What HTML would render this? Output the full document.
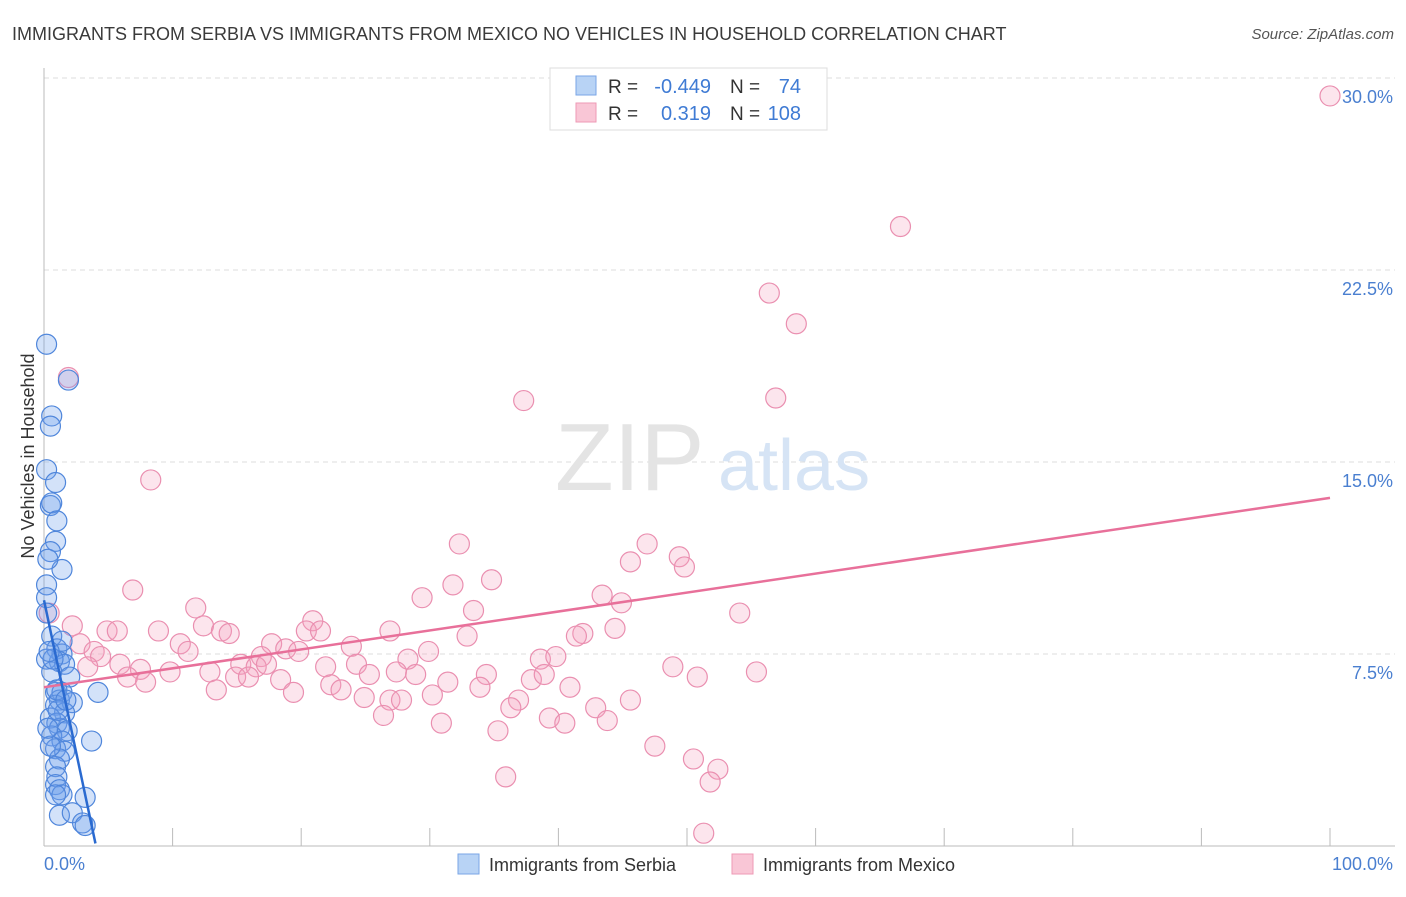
<!DOCTYPE html>
<html><head><meta charset="utf-8"><style>
body{margin:0;background:#fff;font-family:"Liberation Sans",sans-serif}
svg text{font-family:"Liberation Sans",sans-serif}
</style></head><body>
<svg id="chart" width="1406" height="892" xmlns="http://www.w3.org/2000/svg">
<text x="12" y="40" font-size="18" fill="#3a3a3a">IMMIGRANTS FROM SERBIA VS IMMIGRANTS FROM MEXICO NO VEHICLES IN HOUSEHOLD CORRELATION CHART</text>
<text x="1394" y="39" font-size="15" fill="#555" text-anchor="end" font-style="italic">Source: ZipAtlas.com</text>
<g id="grid"></g>
<text x="555" y="490" font-size="96" fill="#e4e4e4" font-family="Liberation Serif">ZIP</text>
<text x="718" y="490" font-size="72" fill="#d6e4f5">atlas</text>
<g id="marks"></g>
<text transform="translate(34,456) rotate(-90)" font-size="18" fill="#333" text-anchor="middle">No Vehicles in Household</text>
<text x="44" y="870" font-size="18" fill="#4a7fd0">0.0%</text>
<text x="1393" y="870" font-size="18" fill="#4a7fd0" text-anchor="end">100.0%</text>
<g>
<rect x="550" y="68" width="277" height="62" fill="#fff" stroke="#ddd"/>
<rect x="576" y="76" width="20" height="19" fill="#b8d3f5" stroke="#7aa6e6"/>
<rect x="576" y="103" width="20" height="19" fill="#f9c6d6" stroke="#ee9ab5"/>
<text x="608" y="93" font-size="19" fill="#333">R = </text><text x="711" y="93" font-size="20" fill="#3f7bd4" text-anchor="end">-0.449</text>
<text x="730" y="93" font-size="19" fill="#333">N = </text><text x="801" y="93" font-size="20" fill="#3f7bd4" text-anchor="end">74</text>
<text x="608" y="120" font-size="19" fill="#333">R = </text><text x="711" y="120" font-size="20" fill="#3f7bd4" text-anchor="end">0.319</text>
<text x="730" y="120" font-size="19" fill="#333">N = </text><text x="801" y="120" font-size="20" fill="#3f7bd4" text-anchor="end">108</text>
</g>
<g>
<rect x="458" y="854" width="21" height="20" fill="#b8d3f5" stroke="#7aa6e6"/>
<text x="489" y="871" font-size="18" fill="#333">Immigrants from Serbia</text>
<rect x="732" y="854" width="21" height="20" fill="#f9c6d6" stroke="#ee9ab5"/>
<text x="763" y="871" font-size="18" fill="#333">Immigrants from Mexico</text>
</g>
</svg>
<script>
const yTicks=[7.5,15,22.5,30];
const yTickLabels=["7.5%","15.0%","22.5%","30.0%"];
const xTicks=[0,10,20,30,40,50,60,70,80,90,100];
const serbiaX=[0.2,1.9,0.6,0.5,0.2,0.9,0.5,0.6,1.0,0.9,0.5,1.4,0.3,0.2,0.2,0.2,0.6,1.0,1.4,1.2,1.6,2.0,0.9,1.4,1.2,0.9,2.2,1.6,0.5,1.0,1.2,1.8,0.6,1.4,0.9,1.6,1.2,0.9,1.0,0.9,1.2,1.4,0.9,3.2,1.2,2.2,3.0,3.2,4.2,3.7,0.2,0.6,1.0,0.5,0.3,1.1,1.7,0.7,1.4,0.4];
const serbiaY=[19.6,18.2,16.8,16.4,14.7,14.2,13.3,13.4,12.7,11.9,11.5,10.8,11.2,10.2,9.7,9.1,8.2,7.7,7.5,7.2,7.1,6.6,6.0,6.0,5.7,5.5,5.6,5.2,5.0,4.8,4.6,4.5,4.3,4.1,3.8,3.7,3.4,3.1,2.7,2.4,2.2,2.0,2.0,1.9,1.2,1.3,0.9,0.8,6.0,4.1,7.3,6.8,6.1,3.9,4.6,5.3,5.7,7.3,8.0,7.6];
const mexicoX=[100,66.6,56.4,58.5,56.9,37.3,1.9,8.3,32.3,46.9,49.4,49.8,45.6,34.8,31.8,6.9,29.4,43.4,44.9,33.4,54.1,11.8,20.9,0.4,2.2,4.9,8.9,12.4,13.8,14.4,20.4,21.5,26.9,32.9,41.9,41.4,44.4,17.7,18.8,23.9,29.9,10.6,11.2,2.8,3.9,4.4,16.9,19.8,15.3,5.9,3.4,7.5,9.8,12.9,16.5,17.3,21.9,24.3,28.3,38.6,39.8,48.9,55.4,6.5,7.9,14.9,15.9,18.4,25.3,27.4,28.9,34.4,37.9,38.9,50.8,22.3,23.1,31.4,33.9,40.9,13.4,19.4,30.2,24.9,26.9,27.8,36.9,45.6,42.9,36.3,26.4,39.3,40.5,43.8,30.9,35.3,47.5,50.5,52.4,51.8,35.9,51.3,5.7];
const mexicoY=[29.3,24.2,21.6,20.4,17.5,17.4,18.3,14.3,11.8,11.8,11.3,10.9,11.1,10.4,10.2,10.0,9.7,9.8,9.5,9.2,9.1,9.3,8.8,9.1,8.6,8.4,8.4,8.6,8.4,8.3,8.4,8.4,8.4,8.2,8.3,8.2,8.5,7.9,7.7,7.8,7.6,7.9,7.6,7.9,7.6,7.4,7.4,7.6,7.1,7.1,7.0,6.9,6.8,6.8,7.0,7.1,7.0,7.1,7.3,7.3,7.4,7.0,6.8,6.6,6.4,6.6,6.6,6.5,6.7,6.8,6.7,6.7,6.5,6.7,6.6,6.3,6.1,6.4,6.2,6.2,6.1,6.0,5.9,5.8,5.7,5.7,5.7,5.7,5.4,5.4,5.1,5.0,4.8,4.9,4.8,4.5,3.9,3.4,3.0,2.5,2.7,0.5,8.4];
const serbiaTrendX=[0,4.0];
const serbiaTrendY=[9.6,0.1];
const mexicoTrendX=[0,100];
const mexicoTrendY=[6.2,13.6];
const NS="http://www.w3.org/2000/svg";
const X0=44,X1=1330,Y0=846,YTOP=78;
function sx(v){return X0+v/100*(X1-X0);}
function sy(v){return Y0-v/30*(Y0-YTOP);}
function mk(t,a,p){const e=document.createElementNS(NS,t);for(const k in a)e.setAttribute(k,a[k]);p.appendChild(e);return e;}
const grid=document.getElementById('grid');
yTicks.forEach((t,i)=>{
 const l=mk('line',{x1:X0,x2:1395,y1:sy(t),y2:sy(t),stroke:'#ddd','stroke-dasharray':'5,4'},grid);
 
 
 const tx=mk('text',{x:1393,y:sy(t)+25,'font-size':18,fill:'#4a7fd0','text-anchor':'end'},grid);
 tx.textContent=yTickLabels[i];
 
 
});
const ax=mk('line',{x1:X0,x2:1395,y1:Y0,y2:Y0,stroke:'#bbb'},grid);


const ay=mk('line',{x1:X0,x2:X0,y1:68,y2:Y0,stroke:'#bbb'},grid);


xTicks.forEach(t=>{
 const l=mk('line',{x1:sx(t),x2:sx(t),y1:828,y2:Y0,stroke:'#bbb'},grid);
 
 
});
const marks=document.getElementById('marks');
function pts(xs,ys,fill,stroke,name){
 xs.forEach((v,i)=>{
  const c=mk('circle',{cx:sx(v),cy:sy(ys[i]),r:10,fill:fill,stroke:stroke,'stroke-width':1.2},marks);
  
  
 });
}
pts(mexicoX,mexicoY,'rgba(244,160,190,0.28)','#ea8fb0','mexico-point');
pts(serbiaX,serbiaY,'rgba(110,160,235,0.3)','#4f86db','serbia-point');
const tm=mk('line',{x1:sx(mexicoTrendX[0]),y1:sy(mexicoTrendY[0]),x2:sx(mexicoTrendX[1]),y2:sy(mexicoTrendY[1]),stroke:'#e8709a','stroke-width':2.5},marks);


const ts=mk('line',{x1:sx(serbiaTrendX[0]),y1:sy(serbiaTrendY[0]),x2:sx(serbiaTrendX[1]),y2:sy(serbiaTrendY[1]),stroke:'#2a6ad0','stroke-width':2.5},marks);


</script>
</body></html>
